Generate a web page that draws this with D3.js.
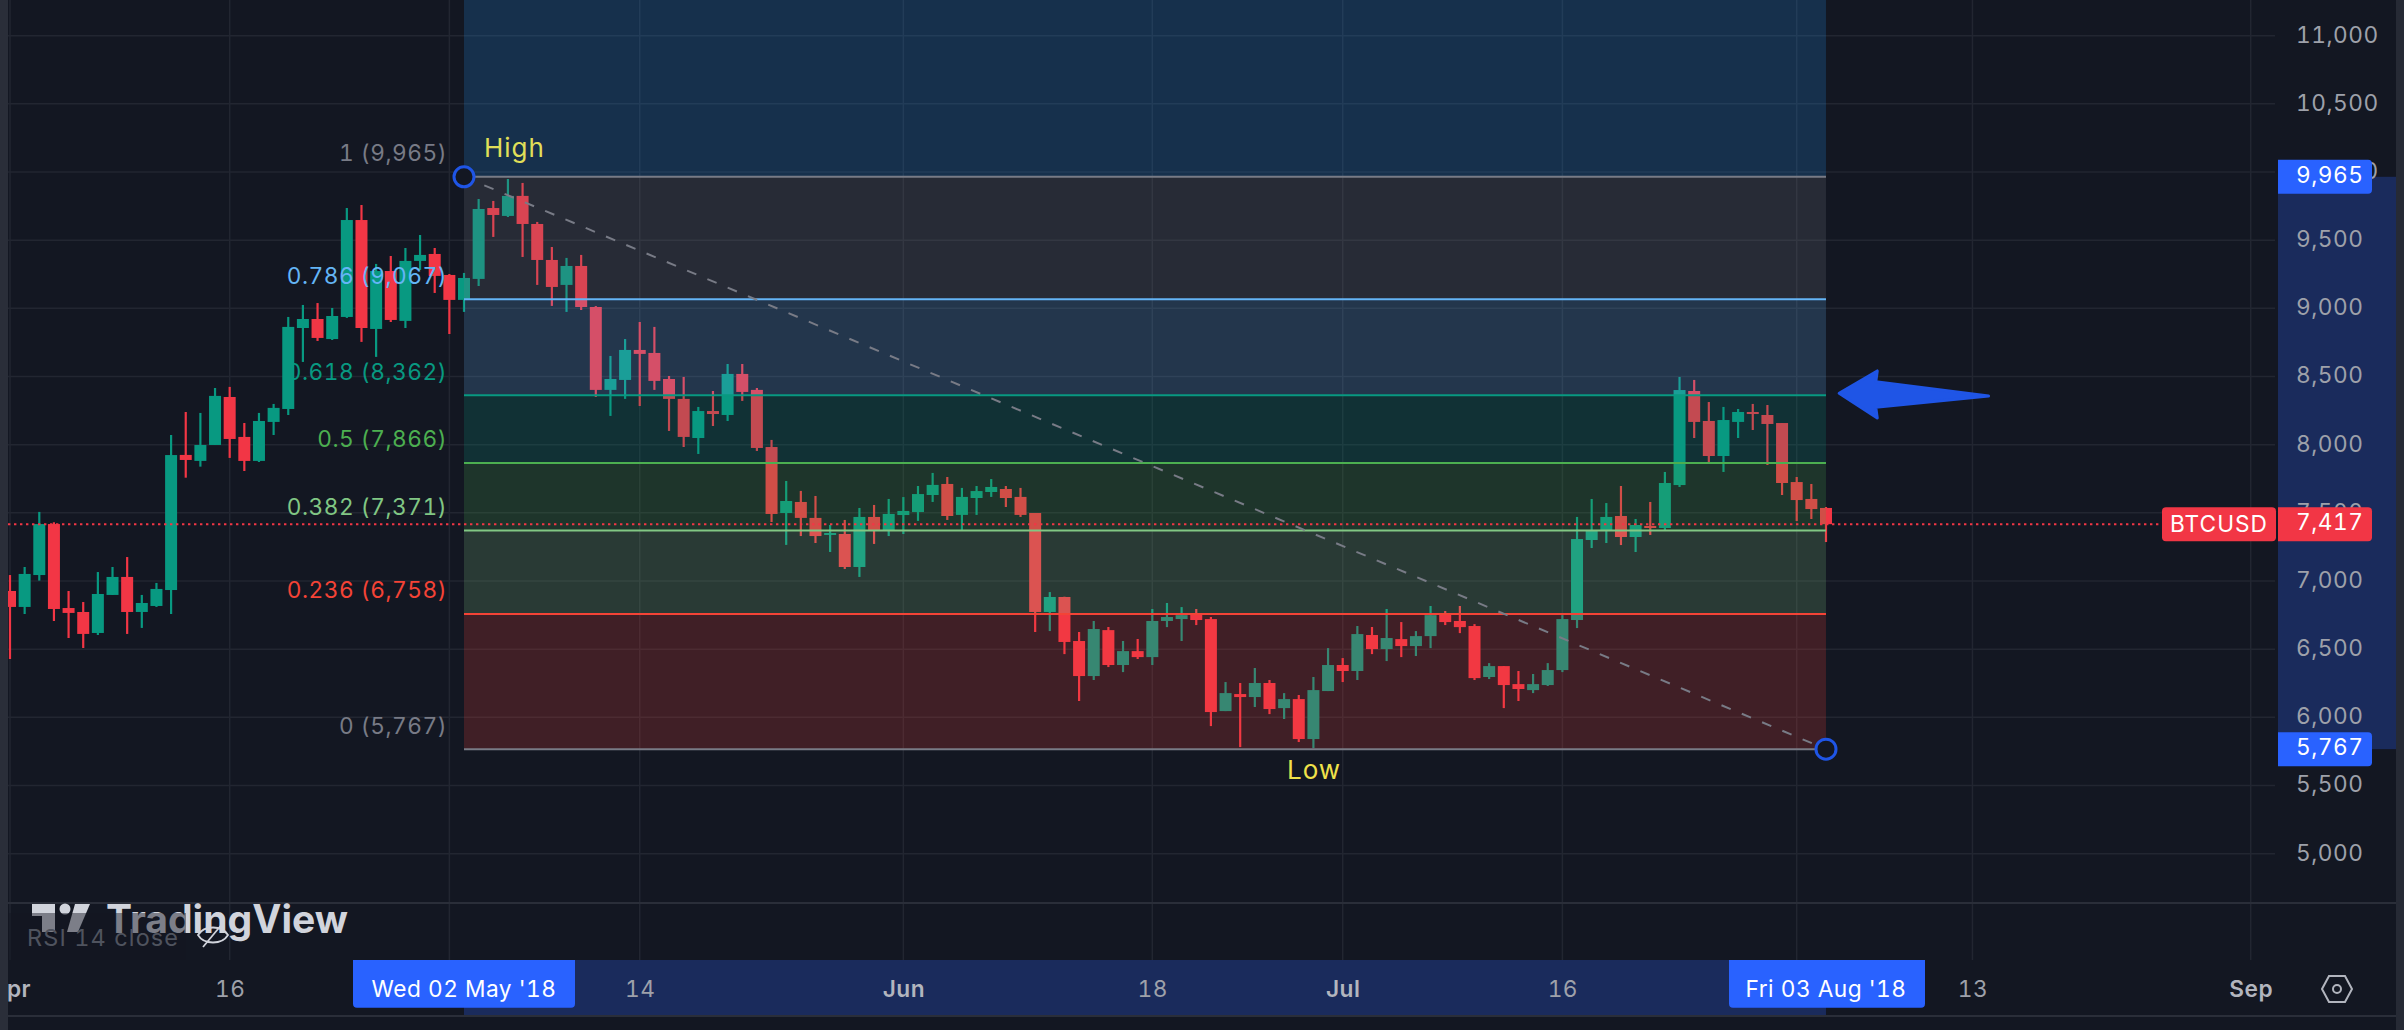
<!DOCTYPE html>
<html>
<head>
<meta charset="utf-8">
<script src="https://cdn.jsdelivr.net/npm/d3@7"></script>
<style>
html,body{margin:0;padding:0;background:#131722;overflow:hidden}
svg{display:block}
text{font-family:Inter,"Noto Sans",sans-serif;font-variant-numeric:tabular-nums;letter-spacing:.5px}
</style>
</head>
<body>
<svg id="chart" width="2404" height="1030"></svg>
<script>
const firstDay = "2018-04-01";
const opens = [6927,6810,7044,7418,6802,6773,6619,6898,7030,6773,6817,6934,7925,7881,7998,8350,8057,7881,8167,8262,8856,8922,8775,8937,9648,8849,9274,8908,9348,9399,9245,9062,9216,9736,9678,9825,9619,9355,9172,9311,9010,8402,8475,8695,8673,8482,8336,8049,8247,8218,8519,8402,7983,7499,7580,7463,7338,7345,7103,7470,7374,7484,7506,7631,7712,7485,7609,7653,7675,7617,7499,6773,6883,6560,6303,6640,6384,6486,6442,6707,6721,6758,6721,6046,6171,6149,6252,6068,6134,5841,6193,6384,6340,6604,6501,6574,6523,6596,6765,6707,6670,6296,6376,6244,6200,6237,6347,6714,7301,7367,7477,7323,7404,7389,7704,8394,8174,7917,8167,8240,8218,8159,7726,7602,7536];
const highs = [7044,7103,7507,7431,6927,6846,7066,7103,7176,6898,6986,8071,8240,8233,8416,8424,8159,8233,8299,8937,9025,9039,9003,9736,9758,9326,9384,9443,9538,9443,9252,9260,9802,9788,9949,9920,9634,9450,9370,9392,9017,8651,8775,8900,8864,8504,8497,8277,8394,8592,8592,8416,8035,7734,7661,7624,7411,7448,7536,7558,7602,7616,7697,7793,7763,7683,7697,7748,7697,7683,7499,6919,6885,6626,6707,6663,6560,6575,6795,6839,6809,6795,6736,6259,6252,6362,6274,6178,6164,6296,6508,6435,6670,6663,6795,6699,6633,6817,6780,6817,6684,6398,6376,6340,6318,6398,6750,7470,7602,7572,7697,7455,7580,7800,8497,8475,8313,8277,8262,8299,8291,8159,7763,7712,7543];
const lows = [6428,6758,7003,6707,6582,6509,6604,6898,6612,6656,6810,6758,7758,7839,7998,7903,7807,7873,8071,8218,8607,8761,8768,8930,8754,8644,8900,8856,9282,9113,8812,8974,9164,9524,9670,9377,9172,9018,8974,8988,8350,8211,8336,8284,8402,8101,7983,7932,8137,8174,8321,7954,7433,7265,7330,7279,7213,7088,7030,7272,7330,7345,7441,7580,7448,7375,7485,7617,7543,7470,6626,6633,6464,6120,6274,6369,6332,6428,6384,6662,6560,6677,5936,6046,5782,6076,6024,5988,5819,5774,6193,6259,6274,6464,6413,6442,6450,6508,6677,6618,6274,6281,6068,6120,6178,6230,6332,6655,7242,7279,7264,7213,7338,7374,7690,8049,7873,7800,8049,8108,7851,7631,7440,7455,7286];
const closes = [6810,7052,7418,6795,6766,6612,6905,7030,6773,6839,6942,7924,7888,7998,8358,8042,7881,8174,8270,8864,8922,8783,8944,9648,8856,9274,8915,9348,9392,9238,9062,9223,9729,9685,9825,9619,9355,9157,9311,9010,8402,8482,8695,8666,8468,8336,8057,8247,8225,8519,8387,7976,7492,7587,7463,7330,7352,7103,7470,7374,7492,7514,7638,7705,7477,7617,7660,7690,7609,7485,6773,6883,6553,6303,6648,6384,6486,6442,6707,6736,6750,6714,6039,6178,6149,6252,6061,6134,5841,6200,6384,6340,6611,6501,6582,6523,6596,6750,6699,6662,6288,6376,6237,6208,6244,6347,6721,7308,7367,7470,7323,7411,7389,7719,8401,8167,7917,8181,8240,8225,8152,7719,7594,7528,7417];

const fibRatios = [1,0.786,0.618,0.5,0.382,0.236,0];
const fibPrices = [9965,9067,8362,7866,7371,6758,5767];
const fibColors = ["#787b86","#64b5f6","#089981","#4caf50","#81c784","#f44336","#787b86"];
const fibFills = ["#2196f3","#787b86","#64b5f6","#089981","#4caf50","#81c784","#f44336"];
const fibStart = "2018-05-02", fibEnd = "2018-08-03";
const priceTicks = [11000,10500,10000,9500,9000,8500,8000,7500,7000,6500,6000,5500,5000];
const timeTickDates = ["2018-04-01","2018-04-16","2018-05-01","2018-05-14","2018-06-01","2018-06-18","2018-07-01","2018-07-16","2018-08-01","2018-08-13","2018-09-01"];
const timeTickLabels = ["Apr","16","May","14","Jun","18","Jul","16","Aug","13","Sep"];
const lastPrice = 7417;
const arrowDays = [124.9,127.5,127.4,135.1,127.4,127.5];
const arrowPrices = [8377,8541,8462,8357,8274,8196];

const BG="#131722", UP="#089981", DOWN="#f23645", BLUE="#2962ff", BAND="#1a2b5c";
const FS=22.7;
const DAY=864e5;
const parse = d3.utcParse("%Y-%m-%d");
const x = d3.scaleUtc().domain([parse("2018-04-01"),parse("2018-09-01")]).range([10,2250.7]);
const y = d3.scaleLinear().domain([5000,11000]).range([853.7,35.7]);
const dayX = i => x(new Date(+parse(firstDay)+i*DAY));
const svg = d3.select("#chart");
svg.append("rect").attr("width",2404).attr("height",1030).attr("fill",BG);

// grid
const grid = svg.append("g").attr("stroke","#222631").attr("stroke-width",1.5);
grid.selectAll(".h").data(priceTicks).join("line").attr("x1",8).attr("x2",2275).attr("y1",d=>y(d)).attr("y2",d=>y(d));
grid.selectAll(".v").data(timeTickDates).join("line").attr("x1",d=>x(parse(d))).attr("x2",d=>x(parse(d))).attr("y1",0).attr("y2",960);

// price axis highlight band (under labels)
svg.append("rect").attr("x",2278).attr("width",118).attr("y",y(fibPrices[0])).attr("height",y(fibPrices[6])-y(fibPrices[0])).attr("fill",BAND);

// candles
const candles = d3.range(opens.length).map(i=>({i,o:opens[i],h:highs[i],l:lows[i],c:closes[i]}));
const cg = svg.append("g");
cg.selectAll("line").data(candles).join("line")
  .attr("x1",d=>dayX(d.i)).attr("x2",d=>dayX(d.i)).attr("y1",d=>y(d.h)).attr("y2",d=>y(d.l))
  .attr("stroke",d=>d.c>=d.o?UP:DOWN).attr("stroke-width",2.2);
cg.selectAll("rect").data(candles).join("rect")
  .attr("x",d=>dayX(d.i)-6).attr("width",12)
  .attr("y",d=>y(Math.max(d.o,d.c))).attr("height",d=>Math.max(1.5,Math.abs(y(d.o)-y(d.c))))
  .attr("fill",d=>d.c>=d.o?UP:DOWN);

// fib bands
const fx0=x(parse(fibStart)), fx1=x(parse(fibEnd));
const bandEdges=[y.invert(0)].concat(fibPrices);
svg.append("g").selectAll("rect").data(fibFills).join("rect")
  .attr("x",fx0).attr("width",fx1-fx0).attr("y",(d,i)=>y(bandEdges[i])).attr("height",(d,i)=>y(bandEdges[i+1])-y(bandEdges[i]))
  .attr("fill",d=>d).attr("fill-opacity",0.2);
// fib lines
svg.append("g").selectAll("line").data(fibPrices).join("line")
  .attr("x1",fx0).attr("x2",fx1).attr("y1",d=>y(d)).attr("y2",d=>y(d))
  .attr("stroke",(d,i)=>fibColors[i]).attr("stroke-width",2);
// trend line
svg.append("line").attr("x1",fx0).attr("y1",y(fibPrices[0])).attr("x2",fx1).attr("y2",y(fibPrices[6]))
  .attr("stroke","#787b86").attr("stroke-width",2).attr("stroke-dasharray","10 12");
// fib labels
const fmt = d3.format(",");
svg.append("g").selectAll("text").data(fibPrices).join("text")
  .attr("x",447).attr("y",d=>y(d)-23.6+8).attr("text-anchor","end")
  .attr("font-size",FS).attr("fill",(d,i)=>fibColors[i])
  .text((d,i)=>`${fibRatios[i]} (${fmt(d)})`);
// anchors
svg.append("g").selectAll("circle").data([[fx0,fibPrices[0]],[fx1,fibPrices[6]]]).join("circle")
  .attr("cx",d=>d[0]).attr("cy",d=>y(d[1])).attr("r",10).attr("fill",BG).attr("stroke","#1f55e6").attr("stroke-width",3);
// High / Low
svg.append("text").attr("x",484).attr("y",156.5).attr("font-size",26).attr("fill","#e0df58").style("letter-spacing","1px").text("High");
svg.append("text").attr("x",1314).attr("y",779).attr("text-anchor","middle").attr("font-size",26).attr("fill","#f0e24a").style("letter-spacing","1px").text("Low");

// dotted last price line
svg.append("line").attr("x1",8).attr("x2",2162).attr("y1",y(lastPrice)).attr("y2",y(lastPrice))
  .attr("stroke",DOWN).attr("stroke-width",2).attr("stroke-dasharray","2.4 3.6");

// arrow
svg.append("path").datum(arrowDays.map((d,i)=>[dayX(d),y(arrowPrices[i])]))
  .attr("d",d3.line().curve(d3.curveLinearClosed))
  .attr("fill","#1f55e6").attr("stroke","#1f55e6").attr("stroke-width",3).attr("stroke-linejoin","round");

// price axis
const pAxis = svg.append("g").attr("transform","translate(2296,0)")
  .call(d3.axisRight(y).tickValues(priceTicks).tickSize(0).tickPadding(0).tickFormat(fmt));
pAxis.select(".domain").remove();
pAxis.selectAll("text").attr("dy",0).attr("y",6.3).attr("font-size",FS).attr("fill","#9ea1aa").style("font-family",'Inter,"Noto Sans",sans-serif');

// price labels
function priceTag(p,color){
  const g=svg.append("g");
  const a=2278,b=2372,c=y(p)-17,e=y(p)+17,r=4;
  g.append("path").attr("d",`M${a},${c}H${b-r}Q${b},${c} ${b},${c+r}V${e-r}Q${b},${e} ${b-r},${e}H${a}Z`).attr("fill",color);
  g.append("text").attr("x",2296).attr("y",y(p)+6.3).attr("font-size",FS).attr("fill","#fff").text(fmt(p));
}
priceTag(fibPrices[0],BLUE);
priceTag(fibPrices[6],BLUE);
priceTag(lastPrice,DOWN);
svg.append("rect").attr("x",2162).attr("width",114).attr("y",y(lastPrice)-17).attr("height",34).attr("rx",4).attr("fill",DOWN);
svg.append("text").attr("x",2219).attr("y",y(lastPrice)+8).attr("text-anchor","middle").attr("font-size",FS).attr("fill","#fff").style("letter-spacing","1px").text("BTCUSD");

// separators
svg.append("line").attr("x1",8).attr("x2",2396).attr("y1",903).attr("y2",903).attr("stroke","#2a2e39").attr("stroke-width",2);
svg.append("line").attr("x1",8).attr("x2",2396).attr("y1",1016).attr("y2",1016).attr("stroke","#2a2e39").attr("stroke-width",2);

// time band + axis
svg.append("rect").attr("x",fx0).attr("width",fx1-fx0).attr("y",960).attr("height",55).attr("fill",BAND);
const label = d3.scaleOrdinal().domain(timeTickDates).range(timeTickLabels);
const tAxis = svg.append("g").attr("transform","translate(0,997)")
  .call(d3.axisBottom(x).tickValues(timeTickDates.map(parse)).tickSize(0).tickPadding(0)
    .tickFormat(d=>label(d3.utcFormat("%Y-%m-%d")(d))));
tAxis.select(".domain").remove();
tAxis.selectAll("text").attr("y",0).attr("dy",0).attr("font-size",FS).style("font-family",'Inter,"Noto Sans",sans-serif')
  .attr("fill",d=>d.getUTCDate()===1?"#b2b5be":"#9ea1aa").attr("font-weight",d=>d.getUTCDate()===1?600:400);
// date tags
function dateTag(day,text,a,b){
  const c=960,e=1007.7,r=4;
  svg.append("path").attr("d",`M${a},${c}H${b}V${e-r}Q${b},${e} ${b-r},${e}H${a+r}Q${a},${e} ${a},${e-r}Z`).attr("fill",BLUE);
  svg.append("text").attr("x",x(parse(day))).attr("y",997).attr("text-anchor","middle").attr("font-size",FS).attr("fill","#fff").text(text);
}
dateTag(fibStart,"Wed 02 May '18",353,575);
dateTag(fibEnd,"Fri 03 Aug '18",1729,1925);

// settings icon
const hex = svg.append("g").attr("transform","translate(2337,989)").attr("fill","none").attr("stroke","#b2b5be").attr("stroke-width",2);
hex.append("path").attr("d","M-15,0L-8,-13H8L15,0L8,13H-8Z");
hex.append("circle").attr("r",4);

// logo
const logo = svg.append("g").attr("fill","#d1d4dc");
logo.append("path").attr("d","M32,904H55V932H42V916H32Z");
logo.append("circle").attr("cx",65).attr("cy",909).attr("r",5.5);
logo.append("path").attr("d","M75,904H90L78,932H67Z");
logo.append("text").attr("x",106).attr("y",933).attr("font-size",39).attr("font-weight",700).attr("textLength",242).attr("lengthAdjust","spacingAndGlyphs").style("letter-spacing","0").text("TradingView");
// legend veil
svg.append("rect").attr("x",8).attr("y",913).attr("width",178).attr("height",47).attr("fill",BG).attr("fill-opacity",0.45);
svg.append("text").attr("x",27).attr("y",946).attr("font-size",23.5).attr("fill","#4f535e").style("letter-spacing","1.1px").text("RSI 14 close");
const eye = svg.append("g").attr("transform","translate(213,935)").attr("fill","none").attr("stroke","#d1d4dc").attr("stroke-width",1.8);
eye.append("path").attr("d","M-15,0C-9,-10 9,-10 15,0C9,10 -9,10 -15,0Z");
eye.append("line").attr("x1",-10).attr("y1",12).attr("x2",10).attr("y2",-12);

// edges
svg.append("rect").attr("x",0).attr("width",8).attr("height",1030).attr("fill","#2a2e39");
svg.append("rect").attr("x",2396).attr("width",8).attr("height",1030).attr("fill","#262a35");
</script>
</body>
</html>
